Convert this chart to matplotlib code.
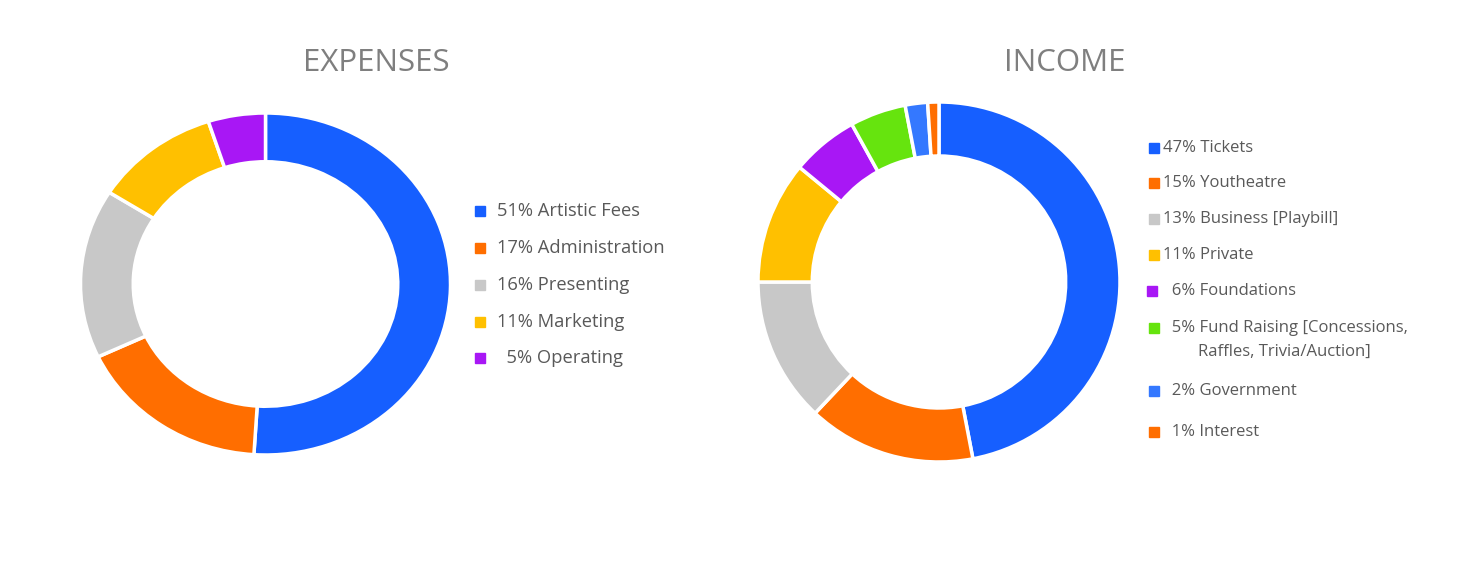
import matplotlib
matplotlib.use("Agg")
import matplotlib.pyplot as plt

W, H = 1457, 564

exp_labels = ["51% Artistic Fees", "17% Administration", "16% Presenting", "11% Marketing", "  5% Operating"]
exp_values = [51, 17, 16, 11, 5]
exp_colors = ["#165FFF", "#FF6E00", "#C8C8C8", "#FFC000", "#A817F5"]

inc_labels = ["47% Tickets", "15% Youtheatre", "13% Business [Playbill]", "11% Private",
              "  6% Foundations", "  5% Fund Raising [Concessions,\n        Raffles, Trivia/Auction]",
              "  2% Government", "  1% Interest"]
inc_values = [47, 15, 13, 11, 6, 5, 2, 1]
inc_colors = ["#165FFF", "#FF6E00", "#C8C8C8", "#FFC000", "#A817F5", "#66E40E", "#3478FF", "#FF6E00"]

plt.rcParams['font.family'] = ['Open Sans', 'DejaVu Sans']
fig = plt.figure(figsize=(W / 100, H / 100), dpi=100)


def px_axes(cx, cy, rx, ry):
    return fig.add_axes([(cx - rx) / W, (H - cy - ry) / H, 2 * rx / W, 2 * ry / H])


def donut(ax, values, colors, width):
    ax.pie(values, colors=colors, startangle=90, counterclock=False, radius=1,
           wedgeprops=dict(width=width, edgecolor="white", linewidth=2.5))
    ax.set_aspect('auto')
    ax.set_xlim(-1.0, 1.0)
    ax.set_ylim(-1.0, 1.0)
    ax.axis('off')


ax1 = px_axes(265.5, 284, 185, 171)
donut(ax1, exp_values, exp_colors, 0.285)
ax2 = px_axes(939, 282, 181, 180)
donut(ax2, inc_values, inc_colors, 0.30)

fig.text(376 / W, 1 - 63 / H, "EXPENSES", ha="center", va="center", fontsize=22.5, color="#7F7F7F")
fig.text(1065 / W, 1 - 63 / H, "INCOME", ha="center", va="center", fontsize=22.5, color="#7F7F7F")

txt_color = "#595959"
exp_y = [211, 248, 285, 322, 358]
for lab, col, y in zip(exp_labels, exp_colors, exp_y):
    fig.patches.append(plt.Rectangle((475 / W, 1 - (y + 5) / H), 10 / W, 10 / H,
                                     transform=fig.transFigure, color=col))
    fig.text(497 / W, 1 - y / H, lab, ha="left", va="center", fontsize=13.2, color=txt_color)

inc_y = [148, 183, 219, 255, 291, 328, 391, 432]
inc_mx = [1149, 1149, 1149, 1149, 1147, 1149, 1149, 1149]
for lab, col, y, mx in zip(inc_labels, inc_colors, inc_y, inc_mx):
    fig.patches.append(plt.Rectangle((mx / W, 1 - (y + 5) / H), 10 / W, 10 / H,
                                     transform=fig.transFigure, color=col))
    for k, line in enumerate(lab.split("\n")):
        fig.text(1163 / W, 1 - (y + 24 * k) / H, line, ha="left", va="center",
                 fontsize=12, color=txt_color)

fig.savefig("out.png", dpi=100, facecolor="white")
